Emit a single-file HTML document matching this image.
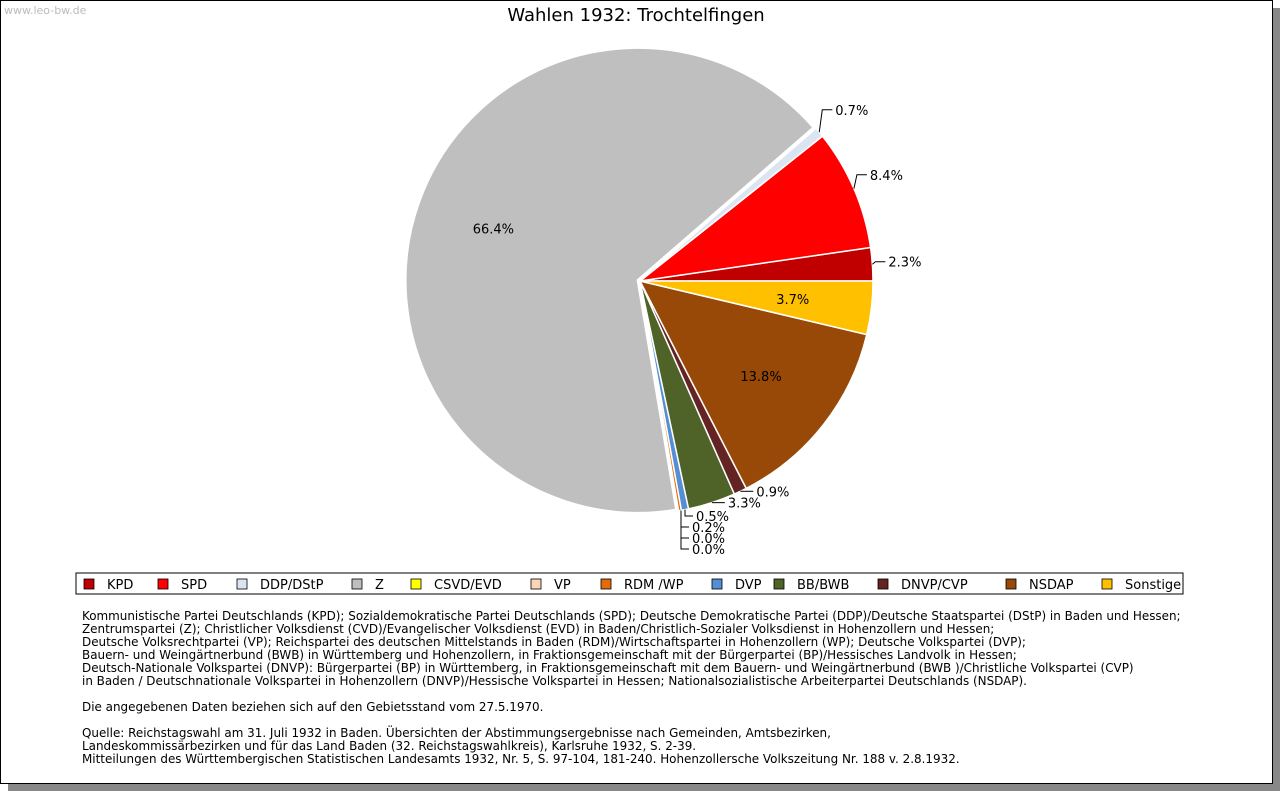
<!DOCTYPE html>
<html><head><meta charset="utf-8"><style>
body{margin:0;background:#fff;width:1280px;height:791px;overflow:hidden;font-family:"DejaVu Sans","Liberation Sans",sans-serif}
#frame{position:absolute;left:0;top:0;width:1271px;height:782px;border:1px solid #000;background:#fff;box-shadow:8px 8px 0 #888}
#notes{position:absolute;left:82px;top:610px;font-size:11.95px;line-height:13px;color:#000;white-space:pre}
</style></head><body>
<div id="frame"></div>
<svg id="chart" width="1280" height="791" style="position:absolute;left:0;top:0">
<text x="4" y="14" font-size="11" fill="#bbb">www.leo-bw.de</text>
<text x="636" y="21" font-size="18" text-anchor="middle">Wahlen 1932: Trochtelfingen</text>
<rect x="76" y="573" width="1107" height="21" fill="#fff" stroke="#000"/>
<g id="slices"></g><g id="labels"></g><g id="legend"></g>
</svg>
<div id="notes">Kommunistische Partei Deutschlands (KPD); Sozialdemokratische Partei Deutschlands (SPD); Deutsche Demokratische Partei (DDP)/Deutsche Staatspartei (DStP) in Baden und Hessen;
Zentrumspartei (Z); Christlicher Volksdienst (CVD)/Evangelischer Volksdienst (EVD) in Baden/Christlich-Sozialer Volksdienst in Hohenzollern und Hessen;
Deutsche Volksrechtpartei (VP); Reichspartei des deutschen Mittelstands in Baden (RDM)/Wirtschaftspartei in Hohenzollern (WP); Deutsche Volkspartei (DVP);
Bauern- und Weingärtnerbund (BWB) in Württemberg und Hohenzollern, in Fraktionsgemeinschaft mit der Bürgerpartei (BP)/Hessisches Landvolk in Hessen;
Deutsch-Nationale Volkspartei (DNVP): Bürgerpartei (BP) in Württemberg, in Fraktionsgemeinschaft mit dem Bauern- und Weingärtnerbund (BWB )/Christliche Volkspartei (CVP)
in Baden / Deutschnationale Volkspartei in Hohenzollern (DNVP)/Hessische Volkspartei in Hessen; Nationalsozialistische Arbeiterpartei Deutschlands (NSDAP).

Die angegebenen Daten beziehen sich auf den Gebietsstand vom 27.5.1970.

Quelle: Reichstagswahl am 31. Juli 1932 in Baden. Übersichten der Abstimmungsergebnisse nach Gemeinden, Amtsbezirken,
Landeskommissärbezirken und für das Land Baden (32. Reichstagswahlkreis), Karlsruhe 1932, S. 2-39.
Mitteilungen des Württembergischen Statistischen Landesamts 1932, Nr. 5, S. 97-104, 181-240. Hohenzollersche Volkszeitung Nr. 188 v. 2.8.1932.</div>
<script>
const parties=["KPD","SPD","DDP/DStP","Z","CSVD/EVD","VP","RDM /WP","DVP","BB/BWB","DNVP/CVP","NSDAP","Sonstige"];
const shares=[2.3,8.4,0.7,66.4,0.0,0.0,0.2,0.5,3.3,0.9,13.8,3.7];
const colors=["#c00000","#ff0000","#dbe5f1","#bfbfbf","#ffff00","#fbd5b5","#e36c09","#558ed5","#4f6228","#632423","#984807","#ffc000"];
const legendX=[84,158,237,352,411,531,601,712,774,878,1006,1102];
const NS="http://www.w3.org/2000/svg";
const cx=640,cy=281,R=233;
const total=shares.reduce((a,b)=>a+b,0);
function pt(a,r,ox,oy){return [cx+(ox||0)+r*Math.cos(a),cy+(oy||0)-r*Math.sin(a)];}
const sg=document.getElementById('slices'),lg=document.getElementById('labels');
function slug(s){return s.toLowerCase().replace(/[^a-z]/g,'');}
let acc=0;const stack=[];
shares.forEach((v,i)=>{
  const a0=acc/total*2*Math.PI;acc+=v;const a1=acc/total*2*Math.PI;const am=(a0+a1)/2;
  const big=v/total>0.5;const ox=big?2*Math.cos(am):0,oy=big?-2*Math.sin(am):0;
  if(v>0){
    const p0=pt(a0,R,ox,oy),p1=pt(a1,R,ox,oy);
    const path=document.createElementNS(NS,'path');
    path.setAttribute('d',`M${cx+ox},${cy+oy}L${p0[0]},${p0[1]}A${R},${R} 0 ${(a1-a0)>Math.PI?1:0} 0 ${p1[0]},${p1[1]}Z`);
    path.setAttribute('fill',colors[i]);path.setAttribute('stroke','#fff');path.setAttribute('stroke-width',big?'3':'1.5');
    
    
    sg.appendChild(path);
  }
  const t=document.createElementNS(NS,'text');t.setAttribute('font-size','13');
  t.textContent=v.toFixed(1)+'%';
  
  
  const inside=(v>=3.5)&&!(am<Math.PI/2&&v<10);
  if(inside){
    const p=pt(am,R*0.66,ox,oy);t.setAttribute('x',p[0]);t.setAttribute('y',p[1]+5);t.setAttribute('text-anchor','middle');
    lg.appendChild(t);
  } else if(am>Math.PI*1.3&&am<Math.PI*1.58&&v<0.6){
    stack.push({am,e:pt(am,R,ox,oy),t});
  } else {
    const e=pt(am,R,ox,oy);
    const dy=am<Math.PI?-35*Math.sin(am):0;
    const ex=e[0]+3;
    const l=document.createElementNS(NS,'polyline');
    l.setAttribute('points',`${e[0]},${e[1]} ${ex},${e[1]+dy} ${ex+10},${e[1]+dy}`);
    l.setAttribute('fill','none');l.setAttribute('stroke','#000');
    
    
    lg.appendChild(l);
    t.setAttribute('x',ex+13);t.setAttribute('y',e[1]+dy+5);
    lg.appendChild(t);
  }
});
stack.sort((a,b)=>b.am-a.am);
let y0=516;const vx=681;
stack.forEach((s,k)=>{
  const y=y0+k*11;
  const l=document.createElementNS(NS,'polyline');
  const x=k===0?s.e[0]:vx;
  l.setAttribute('points',`${x},${s.e[1]} ${x},${y} ${x+8},${y}`);
  l.setAttribute('fill','none');l.setAttribute('stroke','#000');
  
  
  lg.appendChild(l);
  s.t.setAttribute('x',x+11);s.t.setAttribute('y',y+5);
  lg.appendChild(s.t);
});
const leg=document.getElementById('legend');
parties.forEach((p,i)=>{
  const g=document.createElementNS(NS,'g');
  
  
  const r=document.createElementNS(NS,'rect');
  r.setAttribute('x',legendX[i]);r.setAttribute('y',579);r.setAttribute('width',10);r.setAttribute('height',10);
  r.setAttribute('fill',colors[i]);r.setAttribute('stroke','#000');r.setAttribute('stroke-width','0.8');
  const t=document.createElementNS(NS,'text');t.setAttribute('x',legendX[i]+23);t.setAttribute('y',589);t.setAttribute('font-size','13');
  t.textContent=p;
  g.appendChild(r);g.appendChild(t);leg.appendChild(g);
});
</script>
</body></html>
